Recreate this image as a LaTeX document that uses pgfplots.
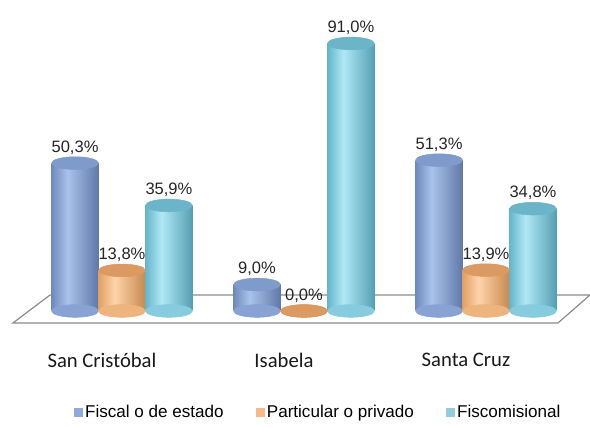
\documentclass[border=0pt]{standalone}
\usepackage{pgfplots}
\pgfplotsset{compat=1.18}
\usepackage{pgfplotstable}
\usepackage{fontspec}
\setmainfont{Liberation Sans}
\newfontfamily\calibri{Carlito}

\definecolor{blueL}{HTML}{6F89BB}
\definecolor{blueM}{HTML}{AAC3EC}
\definecolor{blueR}{HTML}{5F78A8}
\definecolor{blueTop}{HTML}{7E9BCB}
\definecolor{blueBot}{HTML}{88A3D3}
\definecolor{blueLeg}{HTML}{8FA9D8}
\definecolor{orL}{HTML}{E0A066}
\definecolor{orM}{HTML}{FFD3A8}
\definecolor{orR}{HTML}{C88950}
\definecolor{orTop}{HTML}{DB9A62}
\definecolor{orBot}{HTML}{EDB47E}
\definecolor{orLeg}{HTML}{F6B98A}
\definecolor{cyL}{HTML}{66B5CA}
\definecolor{cyM}{HTML}{B0E8F5}
\definecolor{cyR}{HTML}{559FB3}
\definecolor{cyTop}{HTML}{6CB4C8}
\definecolor{cyBot}{HTML}{86CCDE}
\definecolor{cyLeg}{HTML}{93CDDD}
\definecolor{floorgray}{HTML}{8C8C8C}

\pgfdeclarehorizontalshading{cylblue}{100bp}{color(0bp)=(blueL); color(25bp)=(blueL); color(42bp)=(blueM); color(75bp)=(blueR); color(100bp)=(blueR)}
\pgfdeclarehorizontalshading{cylor}{100bp}{color(0bp)=(orL); color(25bp)=(orL); color(42bp)=(orM); color(75bp)=(orR); color(100bp)=(orR)}
\pgfdeclarehorizontalshading{cylcy}{100bp}{color(0bp)=(cyL); color(25bp)=(cyL); color(42bp)=(cyM); color(75bp)=(cyR); color(100bp)=(cyR)}

\pgfplotstableread{
idx fiscal particular fisco
0 50.3 13.8 35.9
1 9.0 0.0 91.0
2 51.3 13.9 34.8
}\datatable

\begin{document}
\begin{tikzpicture}
\useasboundingbox (0,0) rectangle (442.5pt,320.25pt);
\begin{axis}[
  at={(0,0)}, anchor=south west,
  scale only axis, width=442.5pt, height=320.25pt,
  xmin=-0.6703, xmax=2.5714, ymin=-39.46, ymax=105.78,
  axis line style={draw=none}, ticks=none, clip=false,
  legend style={at={(0.54,0.035)}, anchor=center, draw=none, fill=none,
    font=\fontsize{12.8}{14}\selectfont, legend columns=3,
    /tikz/every even column/.append style={column sep=22pt},
    /tikz/every odd column/.append style={column sep=0pt}},
  legend image code/.code={\fill[#1] (0pt,-3.5pt) rectangle (6pt,2.5pt);},
  valnode/.style={nodes near coords={\pgfmathprintnumber[use comma,fixed,fixed zerofill,precision=1,assume math mode=true]{\pgfplotspointmeta}\%},
    point meta=y, draw=none, mark=none,
    every node near coord/.append style={anchor=south, yshift=3pt, text=black!85, font=\fontsize{12.4}{14}\selectfont}},
  capmark/.style={only marks, mark=*, mark size=17.6pt},
  bluebar/.style={ybar, bar width=0.258, bar shift=-0.258, draw=none, shade, shading=cylblue, forget plot},
  orbar/.style={ybar, bar width=0.258, bar shift=0, draw=none, shade, shading=cylor, forget plot},
  cybar/.style={ybar, bar width=0.258, bar shift=0.258, draw=none, shade, shading=cylcy, forget plot},
]
% floor
\addplot[draw=floorgray, fill=white, line width=0.9pt, forget plot] coordinates
  {(-0.3956,5.44) (2.5714,5.44) (2.3956,-4.08) (-0.5989,-4.08) (-0.3956,5.44)};

% bottom ellipses
\addplot[capmark, forget plot, mark options={yscale=0.27, draw=blueBot, fill=blueBot}] table[x expr=\thisrow{idx}-0.258, y expr=0]{\datatable};
\addplot[capmark, forget plot, mark options={yscale=0.27, draw=orBot, fill=orBot}] table[x expr=\thisrow{idx}, y expr=0]{\datatable};
\addplot[capmark, forget plot, mark options={yscale=0.27, draw=cyBot, fill=cyBot}] table[x expr=\thisrow{idx}+0.258, y expr=0]{\datatable};

% bodies (one plot per bar so each has its own shading)
\addplot[bluebar] coordinates {(0,50.3)};
\addplot[bluebar] coordinates {(1,9.0)};
\addplot[bluebar] coordinates {(2,51.3)};
\addplot[orbar] coordinates {(0,13.8)};
\addplot[orbar] coordinates {(2,13.9)};
\addplot[cybar] coordinates {(0,35.9)};
\addplot[cybar] coordinates {(1,91.0)};
\addplot[cybar] coordinates {(2,34.8)};

% top ellipses
\addplot[capmark, forget plot, mark options={yscale=0.27, draw=blueTop, fill=blueTop}] table[x expr=\thisrow{idx}-0.258, y=fiscal]{\datatable};
\addplot[capmark, forget plot, mark options={yscale=0.27, draw=orTop, fill=orTop}] table[x expr=\thisrow{idx}, y=particular]{\datatable};
\addplot[capmark, forget plot, mark options={yscale=0.27, draw=cyTop, fill=cyTop}] table[x expr=\thisrow{idx}+0.258, y=fisco]{\datatable};

% value labels
\addplot[valnode, forget plot] table[x expr=\thisrow{idx}-0.258, y=fiscal]{\datatable};
\addplot[valnode, forget plot] table[x expr=\thisrow{idx}, y=particular]{\datatable};
\addplot[valnode, forget plot] table[x expr=\thisrow{idx}+0.258, y=fisco]{\datatable};

% category labels
\node[font=\calibri\fontsize{15.5}{17}\selectfont, text=black!90] at (axis cs:-0.11,-16.67) {San Cristóbal};
\node[font=\calibri\fontsize{15.5}{17}\selectfont, text=black!90] at (axis cs:0.89,-16.67) {Isabela};
\node[font=\calibri\fontsize{15.5}{17}\selectfont, text=black!90] at (axis cs:1.89,-16.67) {Santa Cruz};

\addlegendimage{blueLeg}
\addlegendimage{orLeg}
\addlegendimage{cyLeg}
\legend{Fiscal o de estado, Particular o privado, Fiscomisional}
\end{axis}
\end{tikzpicture}
\end{document}
